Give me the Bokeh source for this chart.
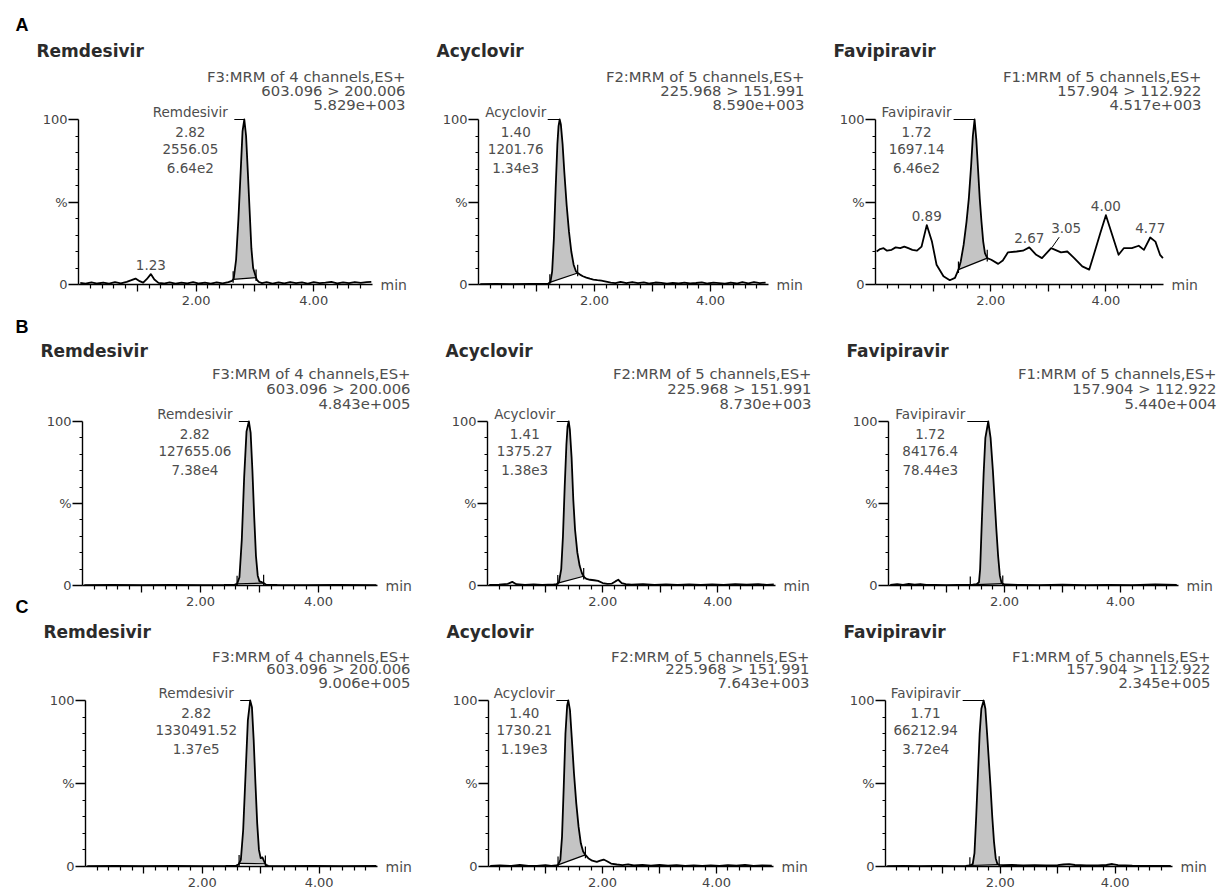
import numpy as np
from bokeh.plotting import figure
from bokeh.models import Range1d, FixedTicker, Label
from bokeh.layouts import row, column
from bokeh.embed import file_html
from bokeh.resources import INLINE

# ------------------------------------------------------------------ data
X_MIN, X_MAX = 0.0, 5.0
Y_MAX = 100.0
X_TICKS = [1, 2, 3, 4]
X_TICK_LABELS = ["", "2.00", "", "4.00"]
Y_TICKS = [0, 50, 100]
Y_TICK_LABELS = ["0", "%", "100"]

# (time [min], relative intensity [%])
A_REM_TRACE = [(0.03, 1.0), (0.12, 0.5), (0.22, 1.3), (0.32, 0.6), (0.42, 1.2), (0.52, 0.5), (0.62, 1.4),
               (0.72, 0.7), (0.82, 1.6), (0.90, 2.6), (0.97, 3.6), (1.04, 2.0), (1.10, 1.1), (1.16, 3.2),
               (1.23, 6.3), (1.29, 3.0), (1.36, 1.0), (1.45, 0.6), (1.55, 1.3), (1.65, 0.5), (1.75, 1.1),
               (1.85, 0.7), (1.95, 1.4), (2.05, 0.6), (2.15, 1.1), (2.25, 0.5), (2.35, 1.3), (2.45, 0.7),
               (2.55, 1.4), (2.61, 2.2), (2.64, 3.5), (2.68, 15), (2.72, 40), (2.76, 70), (2.79, 93),
               (2.82, 100), (2.85, 90), (2.88, 68), (2.91, 45), (2.94, 22), (2.97, 10), (3.00, 6.5),
               (3.03, 3.0), (3.07, 1.5), (3.12, 0.8), (3.20, 1.4), (3.30, 0.6), (3.40, 1.3), (3.50, 0.7),
               (3.60, 1.5), (3.70, 0.8), (3.80, 1.3), (3.90, 0.6), (4.00, 1.4), (4.10, 0.8), (4.20, 1.1),
               (4.30, 1.6), (4.40, 0.7), (4.50, 1.3), (4.60, 0.8), (4.70, 1.5), (4.80, 1.0), (4.90, 1.4),
               (4.98, 1.6)]
A_ACY_TRACE = [(0.03, 0.2), (0.30, 0.3), (0.60, 0.2), (0.90, 0.3), (1.10, 0.3), (1.20, 0.5), (1.24, 1.5),
               (1.27, 8), (1.30, 28), (1.33, 58), (1.36, 85), (1.38, 96), (1.40, 100), (1.42, 97),
               (1.45, 85), (1.48, 68), (1.52, 48), (1.56, 32), (1.60, 20), (1.64, 12), (1.68, 8),
               (1.71, 7), (1.75, 6), (1.80, 5), (1.86, 4.2), (1.92, 3.5), (1.98, 3.0), (2.05, 2.6),
               (2.12, 2.3), (2.20, 1.8), (2.28, 1.2), (2.36, 0.8), (2.45, 1.6), (2.55, 0.8), (2.65, 1.5),
               (2.75, 0.8), (2.85, 1.3), (2.95, 0.6), (3.05, 1.2), (3.15, 1.0), (3.25, 0.5), (3.35, 1.0),
               (3.45, 0.6), (3.55, 1.1), (3.65, 0.6), (3.75, 0.9), (3.85, 1.3), (3.95, 0.6), (4.05, 1.1),
               (4.15, 0.8), (4.25, 0.5), (4.35, 1.2), (4.45, 0.6), (4.55, 1.4), (4.65, 0.7), (4.75, 1.5),
               (4.85, 0.8), (4.95, 1.2)]
A_FAV_TRACE = [(0.02, 20), (0.08, 21.5), (0.14, 22), (0.20, 20.5), (0.28, 21), (0.35, 22.5), (0.43, 22),
               (0.50, 23), (0.57, 22), (0.64, 21), (0.72, 20.5), (0.80, 23), (0.89, 36), (0.98, 26),
               (1.06, 12), (1.18, 5), (1.29, 2.6), (1.38, 4), (1.44, 9), (1.48, 14), (1.53, 24),
               (1.58, 38), (1.62, 52), (1.66, 72), (1.69, 90), (1.72, 100), (1.75, 88), (1.78, 70),
               (1.81, 52), (1.84, 38), (1.87, 26), (1.90, 19), (1.94, 16), (2.01, 15), (2.13, 12.5),
               (2.21, 14.5), (2.30, 19.5), (2.45, 20), (2.56, 20.5), (2.67, 22.5), (2.79, 18), (2.89, 16),
               (2.97, 19), (3.05, 22), (3.12, 21), (3.22, 19.5), (3.33, 20), (3.45, 16), (3.59, 11),
               (3.71, 9), (3.79, 18), (3.91, 32), (4.00, 42), (4.11, 30), (4.22, 18), (4.31, 22),
               (4.45, 22), (4.57, 23.5), (4.66, 21), (4.77, 28.5), (4.86, 26), (4.94, 18), (4.99, 16)]
B_REM_TRACE = [(0.03, 0.2), (0.50, 0.3), (1.00, 0.2), (1.50, 0.3), (2.00, 0.2), (2.40, 0.3), (2.58, 0.5),
               (2.62, 1.0), (2.66, 5), (2.70, 28), (2.74, 66), (2.78, 94), (2.82, 100), (2.85, 93),
               (2.88, 70), (2.91, 42), (2.94, 18), (2.97, 6), (3.00, 2.5), (3.04, 2.0), (3.07, 1.5),
               (3.11, 0.5), (3.30, 0.3), (3.80, 0.2), (4.30, 0.3), (4.98, 0.2)]
B_ACY_TRACE = [(0.03, 0.3), (0.20, 0.5), (0.35, 1.0), (0.43, 2.2), (0.50, 0.8), (0.65, 0.4), (0.80, 0.6),
               (0.95, 0.4), (1.05, 0.5), (1.15, 0.6), (1.20, 0.8), (1.24, 2.0), (1.28, 10), (1.31, 30),
               (1.34, 60), (1.37, 86), (1.39, 97), (1.41, 100), (1.43, 95), (1.46, 78), (1.49, 52),
               (1.52, 34), (1.56, 20), (1.60, 12), (1.64, 7.5), (1.68, 5), (1.72, 4), (1.78, 3.5),
               (1.85, 3.2), (1.92, 2.8), (2.00, 1.5), (2.08, 1.0), (2.16, 1.2), (2.22, 2.5), (2.27, 3.5),
               (2.33, 1.5), (2.40, 0.8), (2.50, 0.5), (2.70, 0.8), (2.90, 0.4), (3.10, 0.7), (3.30, 0.4),
               (3.50, 0.6), (3.70, 0.3), (3.90, 0.7), (4.10, 0.4), (4.30, 0.8), (4.50, 0.5), (4.70, 0.8),
               (4.85, 0.4), (4.97, 0.6)]
B_FAV_TRACE = [(0.03, 0.3), (0.15, 0.8), (0.25, 0.4), (0.35, 1.0), (0.45, 0.5), (0.55, 0.9), (0.65, 0.4),
               (0.80, 0.3), (1.00, 0.2), (1.20, 0.3), (1.35, 0.3), (1.45, 0.5), (1.52, 0.8), (1.56, 2),
               (1.58, 10), (1.61, 40), (1.64, 68), (1.67, 90), (1.72, 100), (1.76, 90), (1.80, 70),
               (1.83, 52), (1.86, 34), (1.89, 18), (1.92, 6), (1.95, 1.5), (2.00, 0.6), (2.30, 0.3),
               (2.60, 0.2), (3.00, 0.5), (3.40, 0.2), (3.80, 0.4), (4.20, 0.2), (4.60, 0.6), (4.97, 0.3)]
C_REM_TRACE = [(0.03, 0.2), (0.50, 0.3), (1.00, 0.2), (1.50, 0.3), (2.00, 0.2), (2.40, 0.3), (2.58, 0.5),
               (2.62, 1.2), (2.66, 4), (2.70, 22), (2.74, 55), (2.78, 88), (2.82, 100), (2.85, 96),
               (2.88, 76), (2.91, 50), (2.94, 26), (2.97, 10), (3.00, 5), (3.03, 5.5), (3.06, 3),
               (3.09, 1.0), (3.13, 0.4), (3.40, 0.2), (3.90, 0.3), (4.40, 0.2), (4.98, 0.3)]
C_ACY_TRACE = [(0.03, 0.3), (0.20, 0.6), (0.40, 0.3), (0.55, 0.9), (0.70, 0.4), (0.85, 0.3), (1.00, 0.8),
               (1.10, 0.4), (1.18, 0.6), (1.22, 1.0), (1.26, 4), (1.29, 18), (1.32, 48), (1.35, 80),
               (1.38, 97), (1.40, 100), (1.43, 94), (1.46, 78), (1.50, 56), (1.54, 38), (1.58, 24),
               (1.62, 14), (1.66, 9), (1.70, 7), (1.75, 5), (1.82, 3.5), (1.90, 2.8), (1.96, 3.5),
               (2.02, 4.2), (2.08, 3.2), (2.15, 1.8), (2.25, 1.2), (2.35, 0.8), (2.45, 1.3), (2.55, 0.6),
               (2.70, 1.0), (2.85, 0.5), (3.00, 0.9), (3.15, 0.5), (3.30, 0.8), (3.45, 0.4), (3.60, 0.6),
               (3.75, 0.3), (3.90, 0.7), (4.05, 0.4), (4.20, 0.8), (4.35, 0.5), (4.50, 0.9), (4.65, 0.4),
               (4.80, 0.7), (4.97, 0.5)]
C_FAV_TRACE = [(0.03, 0.2), (0.30, 0.3), (0.60, 0.2), (0.90, 0.3), (1.20, 0.2), (1.40, 0.3), (1.47, 0.6),
               (1.52, 1.5), (1.55, 8), (1.58, 30), (1.61, 55), (1.64, 80), (1.67, 95), (1.71, 100),
               (1.74, 95), (1.77, 80), (1.80, 64), (1.83, 48), (1.86, 30), (1.89, 15), (1.92, 5),
               (1.95, 1.5), (1.99, 1.0), (2.05, 0.8), (2.20, 0.9), (2.40, 0.7), (2.60, 0.8), (2.80, 0.6),
               (3.00, 0.8), (3.10, 1.2), (3.20, 1.4), (3.30, 0.9), (3.50, 0.6), (3.70, 0.7), (3.85, 0.9),
               (3.95, 1.5), (4.05, 0.8), (4.30, 0.5), (4.60, 0.4), (4.97, 0.3)]

# header lines printed at upper right of each trace
REM_HEAD = ["F3:MRM of 4 channels,ES+", "603.096 > 200.006"]
ACY_HEAD = ["F2:MRM of 5 channels,ES+", "225.968 > 151.991"]
FAV_HEAD = ["F1:MRM of 5 channels,ES+", "157.904 > 112.922"]
INTENSITY = {"A": ["5.829e+003", "8.590e+003", "4.517e+003"],
             "B": ["4.843e+005", "8.730e+003", "5.440e+004"],
             "C": ["9.006e+005", "7.643e+003", "2.345e+005"]}
# main peak annotations: apex time, [RT, area, height]
PEAKS = {"A": [(2.82, ["2.82", "2556.05", "6.64e2"]), (1.40, ["1.40", "1201.76", "1.34e3"]),
               (1.72, ["1.72", "1697.14", "6.46e2"])],
         "B": [(2.82, ["2.82", "127655.06", "7.38e4"]), (1.41, ["1.41", "1375.27", "1.38e3"]),
               (1.72, ["1.72", "84176.4", "78.44e3"])],
         "C": [(2.82, ["2.82", "1330491.52", "1.37e5"]), (1.40, ["1.40", "1730.21", "1.19e3"]),
               (1.71, ["1.71", "66212.94", "3.72e4"])]}
# integration windows (start, end) in min
INTEG = {"A": [(2.63, 3.02), (1.23, 1.71), (1.44, 1.94)],
         "B": [(2.62, 3.07), (1.22, 1.67), (1.41, 1.97)],
         "C": [(2.63, 3.08), (1.22, 1.70), (1.47, 1.98)]}
# extra labelled minor peaks (time, label)
A_REM_MINOR = [(1.23, "1.23")]
A_FAV_MINOR = [(0.89, "0.89"), (2.67, "2.67"), (3.05, "3.05"), (4.00, "4.00"), (4.77, "4.77")]

COMPOUNDS = ["Remdesivir", "Acyclovir", "Favipiravir"]
HEADS = [REM_HEAD, ACY_HEAD, FAV_HEAD]
TRACES = {"A": [A_REM_TRACE, A_ACY_TRACE, A_FAV_TRACE],
          "B": [B_REM_TRACE, B_ACY_TRACE, B_FAV_TRACE],
          "C": [C_REM_TRACE, C_ACY_TRACE, C_FAV_TRACE]}
MINORS = {"A": [A_REM_MINOR, [], A_FAV_MINOR], "B": [[], [], []], "C": [[], [], []]}

# ------------------------------------------------------------------ styles / geometry
FONT = "DejaVu Sans"
FILL = "#c4c4c4"
TXT = "#4d4d4d"
COL_W = [420, 400, 410]
COL_LEFT = [0, 420, 820]
ROWS = {  # canvas top, canvas height, page y of 100 % and 0 %, page x of t=0 and t=5 per column
    "A": dict(top=0, h=312, y100=119, y0=284, xs=[(78, 372), (478, 768), (875, 1163)]),
    "B": dict(top=312, h=304, y100=421, y0=585, xs=[(82, 377), (487, 775), (888, 1178)]),
    "C": dict(top=616, h=275, y100=700, y0=866, xs=[(85, 377), (488, 773), (885, 1172)]),
}
ROWTXT = {  # pixels above the 100 % line: letter, title, header lines
    "A": dict(letter=94.5, title=69, head=[43, 29, 15]),
    "B": dict(letter=95, title=71, head=[48, 33, 18]),
    "C": dict(letter=None, title=69, head=[44, 32, 18]),
}
HEAD_DX = [33, 36, 38]          # right edge of header text beyond axis end (px)
BLOCK_DX = [-54, -44, -58]      # peak label block centre relative to apex (px)
LEADER_GAP = [10, 12, 21]       # leader length (px)
X_MINOR = [round(0.2 * k, 1) for k in range(1, 25) if k % 5]
Y_MINOR = [10, 20, 30, 40, 60, 70, 80, 90]


def lab(p, x, y, text, dx=0, dy=0, align="center", size="14px", color=TXT,
        bold=False, font=FONT):
    p.add_layout(Label(x=x, y=y, x_offset=dx, y_offset=dy, text=text, text_align=align,
                       text_baseline="middle", text_font=font, text_font_size=size,
                       text_color=color, text_font_style="bold" if bold else "normal"))


def make_panel(rk, ci):
    g = ROWS[rk]
    W, H = COL_W[ci], g["h"]
    ax0 = g["xs"][ci][0] - COL_LEFT[ci]
    ax5 = g["xs"][ci][1] - COL_LEFT[ci]
    kx = (ax5 - ax0) / (X_MAX - X_MIN)            # px per min
    c100, c0 = g["y100"] - g["top"], g["y0"] - g["top"]
    ky = (c0 - c100) / Y_MAX                       # px per %
    xr = Range1d(X_MIN - ax0 / kx, X_MIN + (W - ax0) / kx)
    yr = Range1d(-(H - c0) / ky, Y_MAX + c100 / ky)
    p = figure(width=W, height=H, x_range=xr, y_range=yr, title=None,
               output_backend="svg", toolbar_location=None,
               min_border_left=0, min_border_right=0, min_border_top=0, min_border_bottom=0)
    p.outline_line_color = None
    p.grid.visible = False
    p.background_fill_color = "white"
    p.border_fill_color = "white"
    dxp, dyp = 1.0 / kx, 1.0 / ky

    # axes (library axes, pinned to the origin of the data)
    for ax in (p.xaxis[0], p.yaxis[0]):
        ax.fixed_location = 0
        ax.axis_line_color = "black"
        ax.axis_line_width = 1.4
        ax.major_tick_line_color = "black"
        ax.major_tick_line_width = 1.3
        ax.minor_tick_line_color = "black"
        ax.minor_tick_line_width = 1.2
        ax.major_label_text_font = FONT
        ax.major_label_text_font_size = "13px"
        ax.major_label_text_color = "#444444"
        ax.major_tick_in = 0
        ax.minor_tick_in = 0
    p.xaxis.bounds = (X_MIN, X_MAX)
    p.yaxis.bounds = (0, Y_MAX)
    p.xaxis.ticker = FixedTicker(ticks=X_TICKS, minor_ticks=X_MINOR)
    p.xaxis.major_label_overrides = {float(k): v for k, v in zip(X_TICKS, X_TICK_LABELS)}
    p.xaxis.major_tick_out = 7
    p.xaxis.minor_tick_out = 4
    p.xaxis.major_label_standoff = 4
    p.yaxis.ticker = FixedTicker(ticks=Y_TICKS, minor_ticks=Y_MINOR)
    p.yaxis.major_label_overrides = {float(k): v for k, v in zip(Y_TICKS, Y_TICK_LABELS)}
    p.yaxis.major_tick_out = 10
    p.yaxis.minor_tick_out = 3
    p.yaxis.major_label_standoff = 1

    # trace + integrated area
    t, y = map(list, zip(*TRACES[rk][ci]))
    ts, te = INTEG[rk][ci]
    ys = float(np.interp(ts, t, y))
    ye = float(np.interp(te, t, y))
    inner = [(a, b) for a, b in zip(t, y) if ts < a < te]
    px = [ts] + [a for a, _ in inner] + [te]
    py = [ys] + [b for _, b in inner] + [ye]
    p.patch(px, py, fill_color=FILL, line_color=None)
    p.line([ts, te], [ys, ye], line_color="black", line_width=1.2)
    p.segment(x0=[ts, te], y0=[max(ys - 2, 0), max(ye - 2, 0)], x1=[ts, te], y1=[ys + 5, ye + 5],
              line_color="black", line_width=1.2)
    p.line(t, y, line_color="black", line_width=1.8, line_join="round")

    # texts above the plot
    rt = ROWTXT[rk]
    lab(p, X_MIN, Y_MAX, COMPOUNDS[ci], dx=-42, dy=rt["title"], align="left", size="17px",
        color="#2b2b2b", bold=True)
    heads = HEADS[ci] + [INTENSITY[rk][ci]]
    for h, off in zip(heads, rt["head"]):
        lab(p, X_MAX, Y_MAX, h, dx=HEAD_DX[ci], dy=off, align="right", size="14.8px")
    lab(p, X_MAX, 0, "min", dx=8, dy=0, align="left")

    # main peak label
    apex, vals = PEAKS[rk][ci]
    bx = BLOCK_DX[ci]
    p.segment(x0=[apex - LEADER_GAP[ci] * dxp], y0=[Y_MAX], x1=[apex], y1=[Y_MAX],
              line_color="black", line_width=1.2)
    lab(p, apex, Y_MAX, COMPOUNDS[ci], dx=bx, dy=8, size="13.5px")
    for v, off in zip(vals, [-12, -29.5, -48]):
        lab(p, apex, Y_MAX, v, dx=bx, dy=off, size="13.5px")

    # minor peak labels
    for tm, txt in MINORS[rk][ci]:
        iv = float(np.interp(tm, t, y))
        if txt == "3.05":
            p.segment(x0=[tm + 1 * dxp], y0=[iv + 1 * dyp], x1=[tm + 8 * dxp], y1=[iv + 11 * dyp],
                      line_color="black", line_width=1.0)
            lab(p, tm, iv, txt, dx=15, dy=20, size="13.5px")
        else:
            lab(p, tm, iv, txt, dx=0, dy=9, size="13.5px")

    # panel letters
    if ci == 0 and rt["letter"] is not None:
        lab(p, X_MIN, Y_MAX, rk, dx=15 - ax0, dy=rt["letter"], align="left",
            size="18px", color="black", bold=True, font="Liberation Sans")
    if rk == "B" and ci == 0:
        lab(p, X_MIN, 0, "C", dx=15 - ax0, dy=-21.5, align="left", size="18px", color="black",
            bold=True, font="Liberation Sans")
    return p


rows = [row(*[make_panel(rk, ci) for ci in range(3)]) for rk in ["A", "B", "C"]]
layout = column(*rows)
open("out.html", "w").write(file_html(layout, INLINE, title="Chromatograms"))
